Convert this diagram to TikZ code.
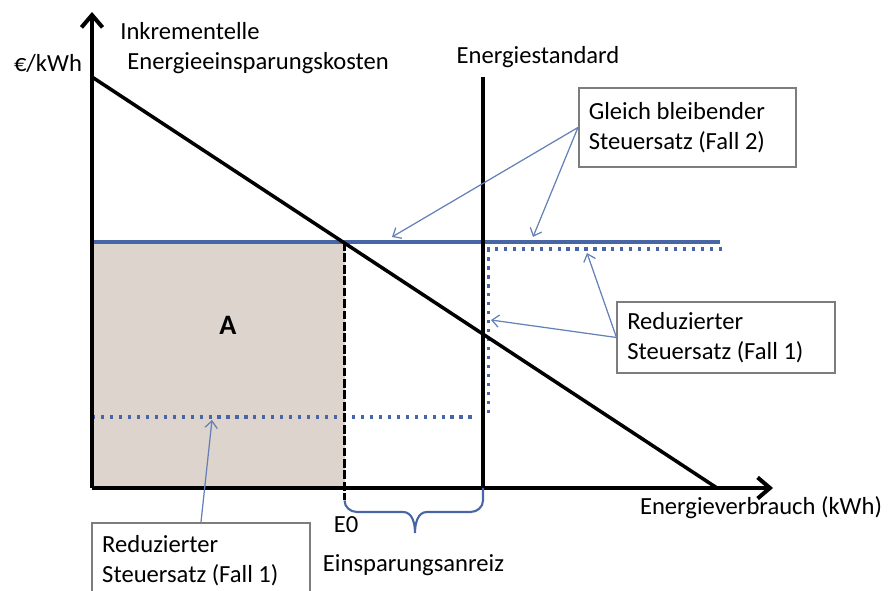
\documentclass[tikz,border=0pt]{standalone}
\usepackage{fontspec}
\setmainfont{Carlito}
\usetikzlibrary{arrows.meta}
\definecolor{steuerblau}{RGB}{72,102,166}
\definecolor{pfeilblau}{RGB}{100,128,182}
\definecolor{flaeche}{RGB}{221,212,205}
\definecolor{rahmen}{RGB}{125,125,125}
\tikzset{
    achse/.style={line width=2.3pt,-{Straight Barb[length=7pt,width=12pt]}},
    kurve/.style={line width=2pt},
    satzlinie/.style={line width=1.8pt,steuerblau},
    satzpunkte/.style={line width=1.8pt,steuerblau,dash pattern=on 1.8pt off 3.3pt},
    hinweis/.style={line width=0.7pt,pfeilblau,-{Straight Barb[length=4pt,width=7pt]}},
    infobox/.style={draw=rahmen,line width=0.9pt,fill=white,align=flush left,
        text width=3.95cm,inner xsep=0.2cm}
}
\begin{document}
\begin{tikzpicture}[font=\fontsize{14}{17}\selectfont]
            \useasboundingbox (-1.84,-2.06) rectangle (15.92,9.76);
            \clip (-1.84,-2.06) rectangle (15.92,9.76);
            \coordinate (O) at (0,0);
            \coordinate (ytop) at (0,9.52);
            \coordinate (xend) at (13.62,0);
            \fill[flaeche] (O) rectangle (5.05,4.92);
            \draw[satzpunkte] (0,1.42) -- (7.7,1.42);
            \draw[satzpunkte] (12.6,4.78) -- (7.93,4.78) -- (7.93,1.5);
            \draw[satzlinie] (0,4.92) -- (12.56,4.92);
            \draw[line width=2pt,dash pattern=on 5pt off 1.5pt] (5.05,4.92) -- (5.05,-0.25);
            \draw[line width=2.3pt] (7.82,0) -- (7.82,8.22);
            \draw[kurve] (0,8.22) -- (12.5,0);
            \draw[achse] (O) -- (ytop);
            \draw[achse] (O) -- (xend);
            \draw[line width=1.2pt,steuerblau] (5.05,-0.25) to[out=-90,in=180] (5.3,-0.48)
                -- (6.22,-0.48) to[out=0,in=90] (6.46,-0.9) to[out=90,in=180] (6.7,-0.48)
                -- (7.57,-0.48) to[out=0,in=-90] (7.82,-0.25) -- (7.82,0);
            \node (einheit) at (-0.88,8.5) {€/kWh};
            \node[align=left,anchor=west,inner sep=0pt] (kosten) at (0.56,8.8)
                {Inkrementelle\\\hspace*{0.14cm}Energieeinsparungskosten};
            \node (standard) at (8.92,8.62) {Energiestandard};
            \node (verbrauch) at (13.38,-0.4) {Energieverbrauch (kWh)};
            \node (e0) at (5.08,-0.74) {E0};
            \node (anreiz) at (6.43,-1.54) {Einsparungsanreiz};
            \node[font=\fontsize{16}{19}\selectfont\bfseries] (flaecheA) at (2.72,3.26) {A};
            \node[infobox,minimum height=1.58cm] (fallzwei) at (11.91,7.21)
                {Gleich bleibender\\Steuersatz (Fall 2)};
            \node[infobox,minimum height=1.42cm] (falleins) at (12.68,3.01)
                {Reduzierter\\Steuersatz (Fall 1)};
            \node[infobox,minimum height=1.52cm,anchor=north] (fallunten) at (2.18,-0.68)
                {Reduzierter\\Steuersatz (Fall 1)};
            \coordinate (tipA) at (6.0,5.02);
            \coordinate (tipB) at (8.82,5.02);
            \coordinate (tipC) at (9.9,4.7);
            \coordinate (tipD) at (7.98,3.36);
            \coordinate (tipE) at (2.4,1.36);
            \draw[hinweis] (fallzwei.west) -- (tipA);
            \draw[hinweis] (fallzwei.west) -- (tipB);
            \draw[hinweis] (falleins.west) -- (tipC);
            \draw[hinweis] (falleins.west) -- (tipD);
            \draw[hinweis] (fallunten.north) -- (tipE);
        \end{tikzpicture}
\end{document}
